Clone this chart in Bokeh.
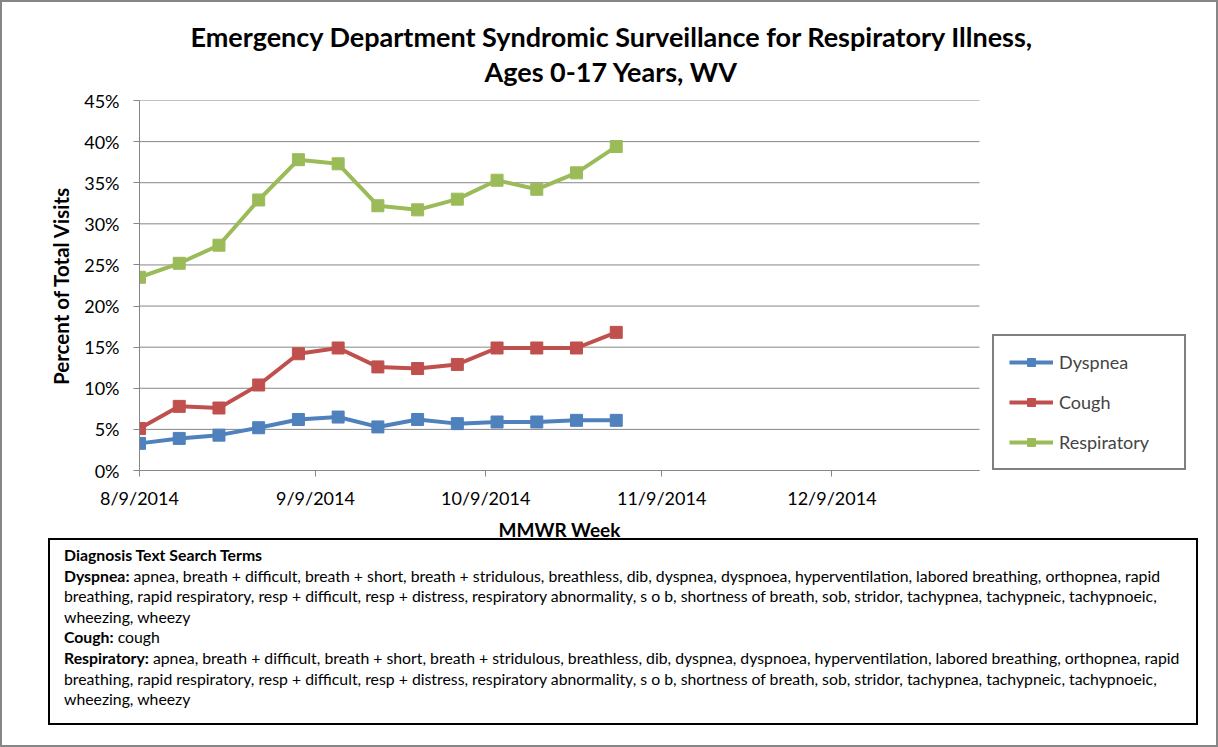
import pandas as pd
from bokeh.plotting import figure
from bokeh.layouts import column
from bokeh.models import (Range1d, FixedTicker, CustomJSTickFormatter, PrintfTickFormatter,
                          Legend, LegendItem, Title, Div)
from bokeh.embed import file_html
from bokeh.resources import INLINE

# ---------------- data ----------------
weeks = ["2014-08-09", "2014-08-16", "2014-08-23", "2014-08-30", "2014-09-06",
         "2014-09-13", "2014-09-20", "2014-09-27", "2014-10-04", "2014-10-11",
         "2014-10-18", "2014-10-25", "2014-11-01"]
dyspnea = [3.3, 3.9, 4.3, 5.2, 6.2, 6.5, 5.3, 6.2, 5.7, 5.9, 5.9, 6.1, 6.1]
cough = [5.1, 7.8, 7.6, 10.4, 14.2, 14.9, 12.6, 12.4, 12.9, 14.9, 14.9, 14.9, 16.8]
respiratory = [23.5, 25.2, 27.4, 32.9, 37.8, 37.3, 32.2, 31.7, 33.0, 35.3, 34.2, 36.2, 39.4]
series_names = ["Dyspnea", "Cough", "Respiratory"]
x_tick_dates = ["2014-08-09", "2014-09-09", "2014-10-09", "2014-11-09", "2014-12-09"]
x_start, x_end = "2014-08-09", "2015-01-04"      # extent of the date axis
x_view_end = "2015-02-13"                       # room on the right for the legend
y_ticks = [0, 5, 10, 15, 20, 25, 30, 35, 40, 45]

title_lines = ["Emergency Department Syndromic Surveillance for Respiratory Illness,",
               "Ages 0-17 Years, WV"]
y_label = "Percent of Total Visits"
x_label = "MMWR Week"

notes_heading = "Diagnosis Text Search Terms"
resp_terms_1 = ("apnea, breath + difficult, breath + short, breath + stridulous, breathless, dib, "
                "dyspnea, dyspnoea, hyperventilation, labored breathing, orthopnea, rapid")
resp_terms_2 = ("breathing, rapid respiratory, resp + difficult, resp + distress, respiratory abnormality, "
                "s o b, shortness of breath, sob, stridor, tachypnea, tachypneic, tachypnoeic,")
resp_terms_3 = "wheezing, wheezy"
cough_terms = "cough"

colors = ["#4F81BD", "#C0504D", "#9BBB59"]
FONT = "Lato"
GRID = "#868686"
W = 1218

# ---------------- main chart ----------------
dates = pd.to_datetime(weeks)
t0, t1 = pd.Timestamp(x_start), pd.Timestamp(x_end)
p = figure(width=W, height=560, x_axis_type="datetime", title=None,
           x_range=Range1d(t0, pd.Timestamp(x_view_end)),
           y_range=Range1d(0, 45),
           output_backend="svg", toolbar_location=None,
           min_border_left=139, min_border_right=12, min_border_top=100, min_border_bottom=90)
p.outline_line_color = None
p.border_fill_alpha = 0
p.background_fill_color = "white"
p.styles = {"box-shadow": "inset 2px 2px 0 0 #868686, inset -2px 0 0 0 #868686"}

# horizontal gridlines limited to the date axis extent
p.xgrid.visible = False
p.ygrid.visible = False
p.segment(x0=[t0] * len(y_ticks), y0=y_ticks, x1=[t1] * len(y_ticks), y1=y_ticks,
          line_color=GRID, line_width=1, level="underlay")

tick_ms = [pd.Timestamp(d).value // 10**6 for d in x_tick_dates]
p.xaxis.ticker = FixedTicker(ticks=tick_ms)
p.xaxis.bounds = (t0, t1)
p.xaxis.formatter = CustomJSTickFormatter(code="""
const d = new Date(tick);
return (d.getUTCMonth() + 1) + '/' + d.getUTCDate() + '/' + d.getUTCFullYear();
""")
p.yaxis.ticker = FixedTicker(ticks=y_ticks)
p.yaxis.formatter = PrintfTickFormatter(format="%d%%")

for ax in (p.xaxis[0], p.yaxis[0]):
    ax.axis_line_color = GRID
    ax.axis_line_width = 1
    ax.major_tick_line_color = GRID
    ax.major_tick_in = 0
    ax.major_tick_out = 6
    ax.minor_tick_line_color = None
    ax.major_label_text_font = FONT
    ax.major_label_text_font_size = "18px"
    ax.major_label_text_color = "black"
    ax.axis_label_text_font = FONT
    ax.axis_label_text_font_style = "bold"
    ax.axis_label_text_color = "black"

p.yaxis.axis_label = y_label
p.yaxis.axis_label_text_font_size = "20.5px"
p.yaxis.major_label_standoff = 14
p.yaxis.axis_label_standoff = 8
p.xaxis.major_label_standoff = 10

# x-axis title, centred under the date axis (not under the widened frame)
p.add_layout(Title(text=x_label, align="left", offset=359, standoff=12, vertical_align="top",
                   text_font=FONT, text_font_style="bold", text_font_size="19px",
                   text_color="black"), "below")

items = []
for name, vals, col in zip(series_names, [dyspnea, cough, respiratory], colors):
    ln = p.line(dates, vals, line_color=col, line_width=4)
    sc = p.scatter(dates, vals, marker="square", size=12, fill_color=col, line_color=col)
    items.append(LegendItem(label=name, renderers=[ln, sc]))

legend = Legend(items=items, location=(853, 0), orientation="vertical",
                padding=15, margin=0, spacing=18, label_standoff=6,
                glyph_width=44, glyph_height=20, label_height=20, label_width=110,
                label_text_font=FONT, label_text_font_size="18px",
                border_line_color="black", border_line_width=2,
                background_fill_color="white", background_fill_alpha=1)
p.add_layout(legend)

# two-line title (second line added first: it sits nearest the plot)
p.add_layout(Title(text=title_lines[1], align="left", offset=345, standoff=25,
                   text_font=FONT, text_font_style="bold", text_font_size="27px",
                   text_color="black"), "above")
p.add_layout(Title(text=title_lines[0], align="left", offset=51, standoff=-24,
                   text_font=FONT, text_font_style="bold", text_font_size="27px",
                   text_color="black"), "above")

# ---------------- notes box ----------------
notes_html = f"""
<div style="box-sizing:border-box; width:{W}px; height:209px; border-left:2px solid {GRID};
            border-right:2px solid {GRID}; border-bottom:2px solid {GRID}; padding-left:46px;">
<div style="box-sizing:border-box; width:1150px; height:187px; border:2px solid black;
            padding:5px 0 0 14px; font-family:Lato; font-size:15.8px; line-height:20.6px;
            color:black; white-space:nowrap;">
<b>{notes_heading}</b><br>
<b>Dyspnea:</b> {resp_terms_1}<br>
{resp_terms_2}<br>
{resp_terms_3}<br>
<b>Cough:</b> {cough_terms}<br>
<b>Respiratory:</b> {resp_terms_1}<br>
{resp_terms_2}<br>
{resp_terms_3}
</div></div>"""
notes = Div(text=notes_html, width=W, height=209, margin=(-22, 0, 0, 0))

layout = column(p, notes, spacing=0)
open("out.html", "w").write(file_html(layout, INLINE))
